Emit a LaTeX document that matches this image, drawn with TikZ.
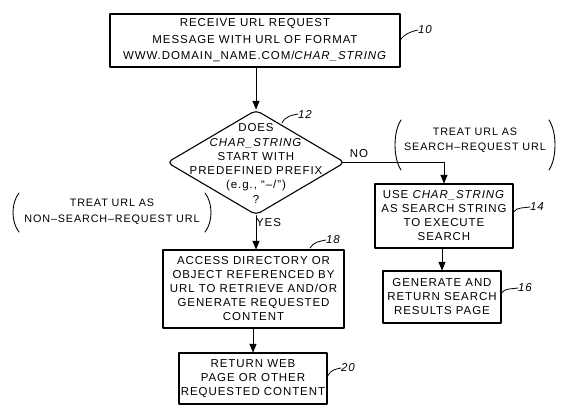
\documentclass[tikz,border=0pt]{standalone}
\usepackage{fontspec}
\setmainfont[LetterSpace=8]{Liberation Sans}
\usetikzlibrary{arrows,shapes.geometric}

\begin{document}
\begin{tikzpicture}[line cap=round,line join=round,>=triangle 45,x=1pt,y=-1pt,
  box/.style={draw,line width=1.1pt,align=center,inner sep=0pt,font=\fontsize{11.5}{14}\selectfont},
  cond/.style={diamond,draw,line width=1.1pt,rounded corners=5pt,inner sep=0pt,minimum width=178pt,minimum height=105pt},
  txt/.style={align=center,inner sep=0pt,font=\fontsize{11.5}{14.3}\selectfont},
  note/.style={align=center,inner sep=0pt,font=\fontsize{10.8}{16.5}\selectfont},
  lbl/.style={inner sep=0pt,font=\fontsize{11.5}{13}\selectfont\itshape},
  lead/.style={line width=0.8pt},
  flow/.style={->,line width=1pt}]
\useasboundingbox (0,0) rectangle (581,418);
% boxes
\node[box,minimum width=290pt,minimum height=53pt,font=\fontsize{11.5}{16.5}\selectfont] (rcv) at (255,40.5)
  {RECEIVE URL REQUEST\\MESSAGE WITH URL OF FORMAT\\WWW.DOMAIN\_NAME.COM/\textit{CHAR\_STRING}};
\node[cond] (q) at (256,162.5) {};
\node[txt] (qtxt) at (256,163.5)
  {DOES\\\textit{CHAR\_STRING}\\START WITH\\PREDEFINED PREFIX\\(e.g., “–/”)\\?};
\node[box,minimum width=138pt,minimum height=64pt] (srch) at (444,216)
  {USE \textit{CHAR\_STRING}\\AS SEARCH STRING\\TO EXECUTE\\SEARCH};
\node[box,minimum width=118pt,minimum height=52pt] (gen) at (442,297)
  {GENERATE AND\\RETURN SEARCH\\RESULTS PAGE};
\node[box,minimum width=181pt,minimum height=78pt] (acc) at (253.5,289)
  {ACCESS DIRECTORY OR\\OBJECT REFERENCED BY\\URL TO RETRIEVE AND/OR\\GENERATE REQUESTED\\CONTENT};
\node[box,minimum width=148pt,minimum height=51pt] (ret) at (253,378.5)
  {RETURN WEB\\PAGE OR OTHER\\REQUESTED CONTENT};
% notes
\node[note] (lnote) at (112,211.5) {TREAT URL AS\\NON–SEARCH–REQUEST URL};
\draw[line width=0.9pt] (19,193) .. controls (11,203) and (11,222) .. (19,232);
\draw[line width=0.9pt] (205,193) .. controls (213,203) and (213,222) .. (205,232);
\node[note,font=\fontsize{10.8}{15}\selectfont] (rnote) at (475,140.5) {TREAT URL AS\\SEARCH–REQUEST URL};
\draw[line width=0.9pt] (401,120) .. controls (393,132) and (393,158) .. (401,170);
\draw[line width=0.9pt] (549,120) .. controls (557,132) and (557,158) .. (549,170);
% connectors
\draw[flow] (rcv.south -| q.north) -- (q.north);
\draw[flow] ([xshift=-3pt]q.east) -| (srch.north);
\draw[flow] (q.south) -- (q.south |- acc.north);
\draw[flow] (srch.south -| gen.north) -- (gen.north);
\draw[flow] (acc.south -| ret.north) -- (ret.north);
\node[txt] (no) at (359,154) {NO};
\node[txt] (yes) at (268.5,223) {YES};
% reference numerals
\node[lbl] (n10) at (425,30) {10};
\node[lbl] (n12) at (305,114) {12};
\node[lbl] (n14) at (537,207) {14};
\node[lbl] (n16) at (525,288) {16};
\node[lbl] (n18) at (333,240) {18};
\node[lbl] (n20) at (348,368) {20};
\draw[lead] (rcv.east |- 0,40) .. controls +(3,-6) and +(-5,1) .. (n10.west);
\draw[lead] (282,123) .. controls +(3,-7) and +(-5,1) .. (n12.west);
\draw[lead] (srch.east |- 0,212) .. controls +(3,-5) and +(-5,1) .. (n14.west);
\draw[lead] (gen.east |- 0,293) .. controls +(3,-5) and +(-5,1) .. (n16.west);
\draw[lead] (310,248) .. controls +(3,-6) and +(-5,1) .. (n18.west);
\draw[lead] (ret.east |- 0,376) .. controls +(3,-6) and +(-5,1) .. (n20.west);
\end{tikzpicture}
\end{document}
